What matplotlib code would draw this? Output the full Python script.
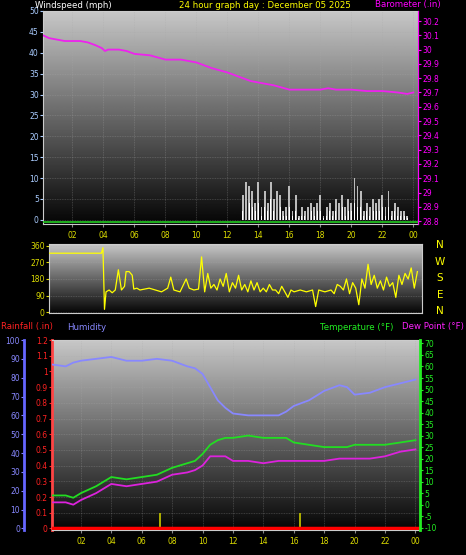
import numpy as np
import matplotlib
matplotlib.use("Agg")
import matplotlib.pyplot as plt

# ---------------- data ----------------
hour_labels = ["02","04","06","08","10","12","14","16","18","20","22","00"]
hour_ticks = [2,4,6,8,10,12,14,16,18,20,22,24]

baro_h = [0.1,0.5,1,1.5,2,2.5,3,3.5,3.9,4.1,4.3,5,5.5,6,7,8,9,9.5,10,11,12,13,13.5,14,15,16,17,18,18.5,19,20,21,22,23,23.6,24]
baro_v = [30.10,30.08,30.07,30.06,30.06,30.06,30.05,30.03,30.01,29.99,30.0,30.0,29.99,29.97,29.96,29.93,29.93,29.92,29.91,29.87,29.84,29.80,29.78,29.77,29.75,29.72,29.72,29.72,29.73,29.72,29.72,29.71,29.71,29.70,29.69,29.70]

wind_h = [13.0,13.2,13.4,13.6,13.8,14.0,14.2,14.4,14.6,14.8,15.0,15.2,15.4,15.6,15.8,16.0,16.2,16.4,16.6,16.8,17.0,17.2,17.4,17.6,17.8,18.0,18.2,18.4,18.6,18.8,19.0,19.2,19.4,19.6,19.8,20.0,20.2,20.4,20.6,20.8,21.0,21.2,21.4,21.6,21.8,22.0,22.2,22.4,22.6,22.8,23.0,23.2,23.4,23.6]
gust_v = [6,9,8,7,4,9,3,7,4,9,5,7,6,2,3,8,2,6,1,3,2,3,4,3,4,6,1,3,4,2,5,4,6,3,5,4,10,8,7,2,4,3,5,4,5,6,3,7,2,4,3,2,2,1]
avg_v  = [2,5,4,3,2,4,1,3,2,5,2,4,3,1,1,3,1,2,0.5,1,1,1,2,1,2,2,0.5,1,2,1,2,2,3,1,2,2,4,3,3,1,2,1,2,2,2,3,1,3,1,2,1,1,1,0.5]

dir_h = [0.1,3.5,3.6,3.7,3.8,4.0,4.2,4.4,4.6,4.8,5.0,5.1,5.3,5.5,5.6,5.8,6.0,6.3,6.6,7.0,7.4,7.8,8.0,8.2,8.6,9.0,9.2,9.5,9.8,10.0,10.2,10.4,10.6,10.8,11.0,11.2,11.4,11.6,11.8,12.0,12.2,12.4,12.6,12.8,13.0,13.2,13.4,13.6,13.8,14.0,14.2,14.4,14.6,14.8,15.0,15.2,15.4,15.6,15.8,16.0,16.4,16.8,17.2,17.4,17.6,18.0,18.4,18.6,18.8,19.0,19.2,19.4,19.6,19.8,20.0,20.2,20.4,20.6,20.8,21.0,21.2,21.4,21.6,21.8,22.0,22.2,22.4,22.6,22.8,23.0,23.2,23.4,23.6,23.8,24.0]
dir_v = [320,320,350,15,110,120,105,120,230,120,140,220,220,200,125,130,120,125,130,120,110,130,190,120,110,180,130,120,125,300,110,210,130,150,120,180,140,210,110,160,130,200,120,150,110,170,120,160,110,130,110,150,120,120,100,140,110,80,120,110,120,110,120,30,120,110,120,100,150,140,120,180,100,160,130,40,180,130,260,150,200,130,170,120,190,140,160,80,200,150,210,180,240,130,220]

env_h = [0.1,1,1.5,2,3,4,5,6,7,8,9,9.5,10,10.5,11,11.5,12,13,14,15,15.5,16,17,18,19,19.5,20,21,22,23,24]
hum_v = [87,86,88,89,90,91,89,89,90,89,86,85,82,75,68,64,61,60,60,60,62,65,68,73,76,75,71,72,75,77,79]
temp_v = [4,4,3,5,8,12,11,12,13,16,18,19,22,26,28,29,29,30,29,29,29,27,26,25,25,25,26,26,26,27,28]
dew_v = [1,1,0,2,5,9,8,9,10,13,14,15,17,21,21,21,19,19,18,19,19,19,19,19,20,20,20,20,21,23,24]
rain_h = [7.2,16.4]
rain_v = [0.1,0.1]

W, H = 466, 555
plt.rcParams['font.family'] = ['DejaVu Sans']
plt.rcParams['axes.unicode_minus'] = False
fig = plt.figure(figsize=(W/100, H/100), dpi=100, facecolor="black")
FS = 5.5
TFS = 6.2

def ax_px(l, t, r, b):
    return fig.add_axes([l/W, 1-b/H, (r-l)/W, (b-t)/H])

def gradient(ax):
    g = np.linspace(0.78, 0.02, 256).reshape(-1, 1)
    ax.imshow(g, cmap="gray", vmin=0, vmax=1, aspect="auto",
              extent=[0, 1, 0, 1], transform=ax.transAxes, zorder=0)

def style(ax, color, xlim=(0.1, 24.3)):
    ax.set_facecolor("black")
    ax.set_xlim(*xlim)
    gradient(ax)
    ax.grid(True, color="#aaaaaa", alpha=0.35, lw=0.6, ls=(0, (1, 1)))
    for s in ax.spines.values():
        s.set_color("#cccccc")
    ax.set_xticks(hour_ticks)
    ax.set_xticklabels(hour_labels, color="#dddd00", fontsize=FS)
    ax.tick_params(axis="x", colors="#888888", labelcolor="#dddd00", length=2, pad=3)
    ax.tick_params(axis="y", colors=color, labelcolor=color, labelsize=FS, length=2, pad=1)

# ---------- top panel ----------
ax1 = ax_px(43, 11, 418, 224)
style(ax1, "#aaccff")
ax1.set_ylim(-1, 50)
ax1.set_yticks(range(0, 51, 5))
ax1.bar(wind_h, gust_v, width=0.12, color="#bbbbbb", zorder=2)
ax1.bar(wind_h, avg_v, width=0.06, color="white", zorder=3)
ax1.axhline(-0.5, color="#22cc22", lw=1.2, zorder=4)
ax1b = ax1.twinx()
ax1b.set_ylim(28.78, 30.27)
bt = np.round(np.arange(28.8, 30.21, 0.1), 1)
ax1b.set_yticks(bt)
ax1b.set_yticklabels([f"{v:g}" for v in bt])
ax1b.tick_params(axis="y", colors="#ff00ff", labelcolor="#ff00ff", labelsize=FS, length=2, pad=1)
ax1b.plot(baro_h, baro_v, color="#ee22ee", lw=1.3)
for s in ax1b.spines.values():
    s.set_visible(False)
ax1b.spines["right"].set_visible(True); ax1b.spines["right"].set_color("#ff00ff")

fig.text(35/W, 1-5/H, "Windspeed (mph)", color="white", fontsize=TFS, va="center")
fig.text(265/W, 1-5/H, "24 hour graph day : December 05 2025", color="#ffff00", fontsize=TFS, va="center", ha="center")
fig.text(441/W, 1-5/H, "Barometer (.in)", color="#ff00ff", fontsize=TFS, va="center", ha="right")

# ---------- middle panel ----------
ax2 = ax_px(49, 244, 422, 313)
style(ax2, "#dddd00")
ax2.set_ylim(-5, 370)
ax2.set_yticks([0, 90, 180, 270, 360])
ax2.set_xticks([])
ax2.plot(dir_h, dir_v, color="#ffff00", lw=0.9, zorder=3)
for i, lab in enumerate(["N", "W", "S", "E", "N"]):
    fig.text(440/W, 1-(245+i*16.5)/H, lab, color="#ffff00", fontsize=7.5, ha="center", va="center")

# ---------- bottom panel ----------
ax3 = ax_px(52, 340, 420, 530)
style(ax3, "#ff2222")
ax3.set_ylim(-0.01, 1.2)
rt = np.round(np.arange(0, 1.21, 0.1), 1)
ax3.set_yticks(rt)
ax3.set_yticklabels([f"{v:g}" for v in rt])
ax3.spines["left"].set_color("#ff4444"); ax3.spines["left"].set_linewidth(2)
ax3.bar(rain_h, rain_v, width=0.1, color="#aaaa00", zorder=3)
ax3.axhline(0, color="#ff0000", lw=2.5, zorder=4)

ax3h = ax3.twinx()
ax3h.set_ylim(-1/1.2, 100)
ax3h.yaxis.set_ticks_position("left")
ax3h.spines["left"].set_position(("outward", 20))
for s in ["top", "right", "bottom"]:
    ax3h.spines[s].set_visible(False)
ax3h.spines["left"].set_color("#6666ff"); ax3h.spines["left"].set_linewidth(2)
ax3h.set_yticks(range(0, 101, 10))
ax3h.tick_params(axis="y", colors="#8888ff", labelcolor="#8888ff", labelsize=FS, length=2, pad=1)
ax3h.plot(env_h, hum_v, color="#8888ff", lw=1.3)

ax3t = ax3.twinx()
ax3t.set_ylim(-11, 71.5)
ax3t.set_yticks(range(-10, 71, 5))
ax3t.tick_params(axis="y", colors="#22ee22", labelcolor="#22ee22", labelsize=FS, length=2, pad=1)
for s in ["top", "left", "bottom"]:
    ax3t.spines[s].set_visible(False)
ax3t.spines["right"].set_color("#22ee22"); ax3t.spines["right"].set_linewidth(2)
ax3t.plot(env_h, temp_v, color="#22dd22", lw=1.3)
ax3t.plot(env_h, dew_v, color="#dd22dd", lw=1.3)

fig.text(1/W, 1-327/H, "Rainfall (.in)", color="#ff2222", fontsize=TFS, va="center")
fig.text(67/W, 1-327/H, "Humidity", color="#8888ff", fontsize=TFS, va="center")
fig.text(393/W, 1-327/H, "Temperature (°F)", color="#22ee22", fontsize=TFS, va="center", ha="right")
fig.text(464/W, 1-327/H, "Dew Point (°F)", color="#ff22ff", fontsize=TFS, va="center", ha="right")

fig.savefig("out.png", dpi=100, facecolor="black")
